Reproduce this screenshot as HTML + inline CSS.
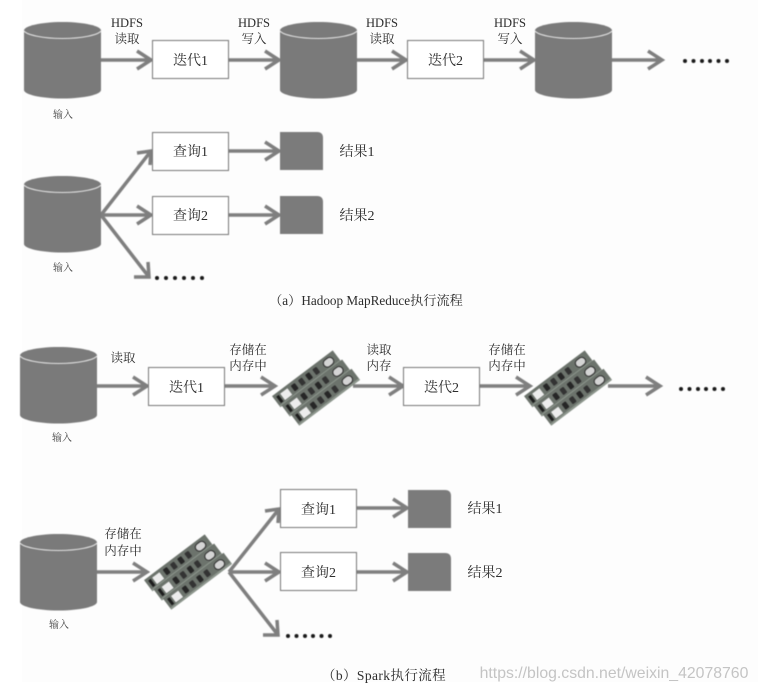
<!DOCTYPE html>
<html><head><meta charset="utf-8"><style>
html,body{margin:0;padding:0;background:#fff}
svg{display:block}
text{font-family:"Liberation Serif","Noto Serif CJK SC",serif;fill:#2c2c2c;text-anchor:middle}
.l{font-size:12.5px}
.b{font-size:14px}
.s{font-size:10px;fill:#444}
.r{font-size:14px}
.art{filter:blur(.4px)}
</style></head><body>
<svg width="758" height="692" viewBox="0 0 758 692" xmlns="http://www.w3.org/2000/svg">
<defs>
<g id="cyl">
<path d="M0 8.500V68C0 72.500 17 76.500 38.500 76.500S77 72.500 77 68V8.500C77 4 60 0 38.500 0S0 4 0 8.500Z" fill="#7a7a7a"/>
<path d="M0 9C3 13 19 16.500 38.500 16.500S74 13 77 9" fill="none" stroke="#e2e2e2" stroke-width="1.100"/>
</g>
<g id="doc"><path d="M0 0H37Q43 0 43 6V38H0Z" fill="#7b7b7b"/></g>
<g id="stick">
<rect x="-38" y="-7" width="76" height="14" fill="#6c736c"/>
<rect x="-38" y="5" width="76" height="2" fill="#8d968d"/>
<rect x="-35" y="-4" width="3" height="8" fill="#1c1c1c"/>
<rect x="-30" y="-4" width="9" height="8" fill="#ececec"/>
<rect x="-17" y="-4" width="5" height="7" rx="1" fill="#262626"/>
<rect x="-8" y="-4" width="5" height="7" rx="1" fill="#333"/>
<rect x="1" y="-4" width="5" height="7" rx="1" fill="#262626"/>
<rect x="10" y="-4" width="5" height="7" rx="1" fill="#333"/>
<rect x="22" y="-4" width="11" height="8" rx="4" fill="#d4d4d4" stroke="#2c2c2c" stroke-width="1"/>
</g>
<g id="ram" transform="rotate(-37)">
<use href="#stick" x="-2" y="-13"/>
<use href="#stick" x="0" y="0"/>
<use href="#stick" x="2" y="13"/>
</g>
</defs>
<rect x="22" y="0" width="736" height="682" fill="#fdfdfd"/>

<g class="art">
<g stroke="#7f7f7f" stroke-width="3.500" fill="none">
<path d="M101 60H151M137 51L151 60L137 69"/>
<path d="M229 60H279M265 51L279 60L265 69"/>
<path d="M357 60H406M392 51L406 60L392 69"/>
<path d="M484 60H534M520 51L534 60L520 69"/>
<path d="M612 60H662M648 51L662 60L648 69"/>

<path d="M101 215L151 151M137 153L151 151L150 165"/>
<path d="M101 215H151M137 206L151 215L137 224"/>
<path d="M101 215L149 277M134 277L149 277L148 262"/>
<path d="M229 151H279M265 142L279 151L265 160"/>
<path d="M229 215H279M265 206L279 215L265 224"/>

<path d="M97 386H147M133 377L147 386L133 395"/>
<path d="M225 386H275M261 377L275 386L261 395"/>
<path d="M353 386H403M389 377L403 386L389 395"/>
<path d="M480 386H530M516 377L530 386L516 395"/>
<path d="M608 386H660M646 377L660 386L646 395"/>

<path d="M97 572H147M133 563L147 572L133 581"/>
<path d="M229 572L279 509M265 511L279 509L278 523"/>
<path d="M229 572H279M265 563L279 572L265 581"/>
<path d="M229 572L278 635M263 635L278 635L277 620"/>
<path d="M357 508H407M393 499L407 508L393 517"/>
<path d="M357 572H407M393 563L407 572L393 581"/>
</g>

<use href="#cyl" x="24" y="22"/>
<use href="#cyl" x="280" y="22"/>
<use href="#cyl" x="535" y="22"/>
<use href="#cyl" x="24" y="176"/>
<use href="#cyl" x="20" y="347"/>
<use href="#cyl" x="20" y="534"/>

<g fill="#fff" stroke="#777" stroke-width="1">
<rect x="152.500" y="40.500" width="76" height="38"/>
<rect x="407.500" y="40.500" width="76" height="38"/>
<rect x="152.500" y="132.500" width="76" height="38"/>
<rect x="152.500" y="196.500" width="76" height="38"/>
<rect x="148.500" y="367.500" width="76" height="38"/>
<rect x="403.500" y="367.500" width="76" height="38"/>
<rect x="280.500" y="489.500" width="76" height="38"/>
<rect x="280.500" y="552.500" width="76" height="38"/>
</g>

<use href="#doc" x="280" y="132"/>
<use href="#doc" x="280" y="196"/>
<use href="#doc" x="408" y="490"/>
<use href="#doc" x="408" y="553"/>

<g transform="translate(316,388)"><use href="#ram"/></g>
<g transform="translate(568,388)"><use href="#ram"/></g>
<g transform="translate(188,572)"><use href="#ram"/></g>

<g fill="#1a1a1a">
<circle cx="685" cy="61" r="2"/><circle cx="693.500" cy="61" r="2"/><circle cx="702" cy="61" r="2"/><circle cx="710" cy="61" r="2"/><circle cx="718.500" cy="61" r="2"/><circle cx="727" cy="61" r="2"/>
<circle cx="157" cy="278" r="2"/><circle cx="166" cy="278" r="2"/><circle cx="175" cy="278" r="2"/><circle cx="184" cy="278" r="2"/><circle cx="193" cy="278" r="2"/><circle cx="202" cy="278" r="2"/>
<circle cx="681" cy="389" r="2"/><circle cx="689.500" cy="389" r="2"/><circle cx="698" cy="389" r="2"/><circle cx="706" cy="389" r="2"/><circle cx="714.500" cy="389" r="2"/><circle cx="723" cy="389" r="2"/>
<circle cx="288" cy="636" r="2"/><circle cx="296.500" cy="636" r="2"/><circle cx="305" cy="636" r="2"/><circle cx="313" cy="636" r="2"/><circle cx="321.500" cy="636" r="2"/><circle cx="330" cy="636" r="2"/>
</g>
</g>

<text class="b" x="190.500" y="65">迭代1</text>
<text class="b" x="445.500" y="65">迭代2</text>
<text class="b" x="190.500" y="156">查询1</text>
<text class="b" x="190.500" y="220">查询2</text>
<text class="b" x="186.500" y="392">迭代1</text>
<text class="b" x="441.500" y="392">迭代2</text>
<text class="b" x="318.500" y="514">查询1</text>
<text class="b" x="318.500" y="577">查询2</text>

<text class="l" x="127" y="27">HDFS</text><text class="l" x="127" y="43">读取</text>
<text class="l" x="254" y="27">HDFS</text><text class="l" x="254" y="43">写入</text>
<text class="l" x="382" y="27">HDFS</text><text class="l" x="382" y="43">读取</text>
<text class="l" x="510" y="27">HDFS</text><text class="l" x="510" y="43">写入</text>

<text class="l" x="123" y="362">读取</text>
<text class="l" x="248" y="354">存储在</text><text class="l" x="248" y="370">内存中</text>
<text class="l" x="379" y="354">读取</text><text class="l" x="379" y="370">内存</text>
<text class="l" x="507" y="354">存储在</text><text class="l" x="507" y="370">内存中</text>
<text class="l" x="123" y="538">存储在</text><text class="l" x="123" y="555">内存中</text>

<text class="s" x="63" y="118">输入</text>
<text class="s" x="63" y="271">输入</text>
<text class="s" x="62" y="441">输入</text>
<text class="s" x="59" y="628">输入</text>

<text class="r" x="357" y="156">结果1</text>
<text class="r" x="357" y="220">结果2</text>
<text class="r" x="485" y="513">结果1</text>
<text class="r" x="485" y="577">结果2</text>

<text x="366" y="305" style="font-size:13.200px">（a）Hadoop MapReduce执行流程</text>
<text x="384" y="680" style="font-size:13.500px;letter-spacing:.4px">（b）Spark执行流程</text>
<text x="614" y="678" style="font-family:'Liberation Sans',sans-serif;font-size:15.800px;fill:#c4c4c4">https://blog.csdn.net/weixin_42078760</text>
</svg>
</body></html>
